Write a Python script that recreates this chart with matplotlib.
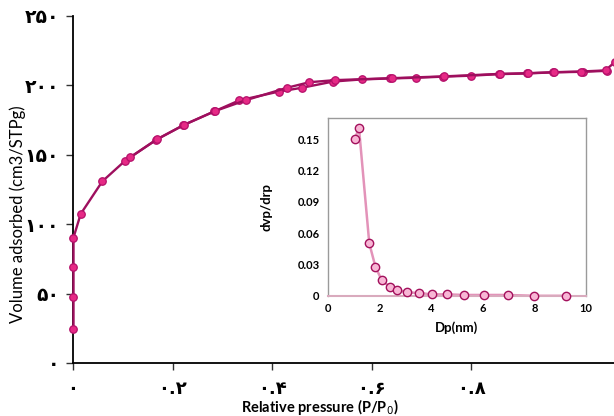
import matplotlib
matplotlib.use("Agg")
import matplotlib.pyplot as plt

# ---------------- data ----------------
ads_x = [0.001, 0.001, 0.001, 0.001, 0.0155, 0.059, 0.105, 0.167, 0.222, 0.284, 0.334,
         0.413, 0.460, 0.523, 0.580, 0.636, 0.689, 0.743, 0.800, 0.855, 0.912, 0.964,
         1.024, 1.073]
ads_y = [24.7, 47.2, 69.5, 90.4, 107.4, 130.9, 145.8, 160.8, 171.4, 181.3, 189.2,
         195.5, 198.3, 202.8, 204.3, 205.0, 205.5, 206.3, 207.0, 208.1, 208.6, 209.4,
         209.8, 210.5]
des_x = [1.089, 1.070, 1.020, 0.966, 0.914, 0.858, 0.746, 0.640, 0.527, 0.475, 0.430,
         0.347, 0.286, 0.224, 0.169, 0.115]
des_y = [217.0, 210.8, 210.0, 209.5, 208.8, 208.3, 206.5, 205.2, 203.8, 202.3, 198.3,
         189.3, 181.6, 171.7, 161.2, 148.2]

psd_x = [1.035, 1.20, 1.60, 1.84, 2.08, 2.39, 2.68, 3.08, 3.52, 4.02, 4.62, 5.27,
         6.04, 6.96, 8.00, 9.21]
psd_y = [0.150, 0.161, 0.0504, 0.0278, 0.0153, 0.0086, 0.0057, 0.0035, 0.0029,
         0.0016, 0.0016, 0.0010, 0.0010, 0.0010, 0.0002, 0.0002]

main_yticks = [0, 50, 100, 150, 200, 250]
main_ytick_labels = ['۰', '۵۰', '۱۰۰', '۱۵۰', '۲۰۰', '۲۵۰']
main_xticks = [0, 0.2, 0.4, 0.6, 0.8]
main_xtick_labels = ['۰', '۰.۲', '۰.۴', '۰.۶', '۰.۸']
inset_yticks = [0, 0.03, 0.06, 0.09, 0.12, 0.15]
inset_ytick_labels = ['0', '0.03', '0.06', '0.09', '0.12', '0.15']
inset_xticks = [0, 2, 4, 6, 8, 10]

# ---------------- figure ----------------
plt.rcParams['font.family'] = ['Lato', 'DejaVu Sans']
fig = plt.figure(figsize=(6.14, 4.16), dpi=100)
ax = fig.add_axes([73/614, 1-363/416, 1-73/614, 347/416])

line_c = '#9e0f5e'
face_c = '#e62a86'
for xs, ys in ((ads_x, ads_y), (des_x, des_y)):
    ax.plot(xs, ys, color=line_c, lw=1.7, marker='o', ms=5.4,
            mfc=face_c, mec='#b5106a', mew=0.9, clip_on=False, zorder=3)

ax.set_xlim(0, 1.087)
ax.set_ylim(0, 250)
ax.spines['top'].set_visible(False)
ax.spines['right'].set_visible(False)
ax.spines['left'].set_linewidth(1.3)
ax.spines['bottom'].set_linewidth(1.3)
ax.set_yticks(main_yticks)
ax.set_yticklabels(main_ytick_labels, fontsize=13.5, fontweight='bold',
                   family=['DejaVu Sans'])
ax.set_xticks(main_xticks)
ax.set_xticklabels(main_xtick_labels, fontsize=13, fontweight='bold',
                   family=['DejaVu Sans'])
ax.tick_params(axis='both', direction='out', length=5, width=1.0, color='#333333')
ax.tick_params(axis='y', pad=5)
ax.tick_params(axis='x', pad=7)

ax.set_ylabel('Volume adsorbed (cm3/STPg)', fontsize=12)
ax.yaxis.set_label_coords(-0.086, 0.43)
ax.set_xlabel('Relative pressure (P/P$_0$)', fontsize=10.5, fontweight='bold')
ax.xaxis.set_label_coords(0.457, -0.097)

# ---------------- inset ----------------
ins = fig.add_axes([328/614, 1-296/416, (586-328)/614, (296-118)/416])
ins.set_facecolor('white')
ins.set_zorder(5)
ins.plot(psd_x, psd_y, color='#e393b9', lw=1.8, zorder=2)
ins.plot(psd_x, psd_y, ls='none', marker='o', ms=6, mfc='#f8b6d5',
         mec='#a3105c', mew=1.0, zorder=3, clip_on=False)
ins.set_xlim(0, 10)
ins.set_ylim(0, 0.1704)
for s in ('top', 'right', 'left'):
    ins.spines[s].set_color('#9a9a9a')
    ins.spines[s].set_linewidth(1.0)
ins.spines['bottom'].set_color('#d9aabd')
ins.spines['bottom'].set_linewidth(1.5)
ins.set_yticks(inset_yticks)
ins.set_yticklabels(inset_ytick_labels, fontsize=8, fontweight='bold')
ins.set_xticks(inset_xticks)
ins.set_xticklabels([str(v) for v in inset_xticks], fontsize=8, fontweight='bold')
ins.tick_params(axis='both', length=0)
ins.tick_params(axis='y', pad=6)
ins.tick_params(axis='x', pad=5)
ins.set_ylabel('dvp/drp', fontsize=9.5, fontweight='bold', labelpad=18)
ins.set_xlabel('Dp(nm)', fontsize=9.5, fontweight='bold', labelpad=5)

fig.savefig('out.png', dpi=100)
